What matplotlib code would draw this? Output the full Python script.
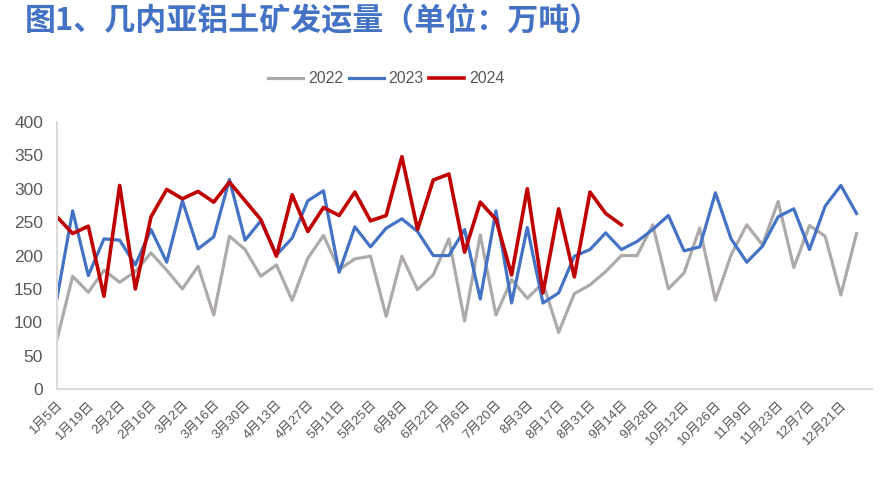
import numpy as np
import matplotlib
matplotlib.use('Agg')
import matplotlib.pyplot as plt

plt.rcParams['font.family'] = ['Liberation Sans', 'Noto Sans CJK SC', 'DejaVu Sans']

# Rótulos do eixo x (a cada duas semanas)
rotulos = ['1月5日', '1月19日', '2月2日', '2月16日', '3月2日', '3月16日', '3月30日',
           '4月13日', '4月27日', '5月11日', '5月25日', '6月8日', '6月22日', '7月6日',
           '7月20日', '8月3日', '8月17日', '8月31日', '9月14日', '9月28日', '10月12日',
           '10月26日', '11月9日', '11月23日', '12月7日', '12月21日']

# Embarques semanais (万吨)
s2022 = [74, 169, 145, 178, 160, 176, 204, 178, 150, 184, 111, 229, 209, 169, 186, 133,
         196, 230, 179, 195, 199, 109, 199, 149, 171, 225, 102, 231, 111, 164, 136, 159,
         85, 143, 156, 176, 200, 200, 246, 150, 174, 241, 133, 201, 246, 216, 281, 182,
         245, 229, 141, 233]
s2023 = [136, 267, 170, 225, 223, 186, 239, 190, 282, 210, 228, 314, 223, 252, 201, 226,
         282, 297, 175, 243, 213, 241, 255, 236, 200, 200, 239, 135, 267, 129, 242, 129,
         144, 199, 209, 234, 209, 221, 239, 260, 207, 213, 294, 225, 190, 214, 258, 270,
         209, 274, 305, 263]
s2024 = [258, 233, 244, 139, 305, 150, 258, 299, 285, 296, 280, 310, 282, 254, 199, 291,
         236, 272, 260, 295, 252, 260, 348, 239, 313, 322, 205, 280, 254, 171, 300, 144,
         270, 168, 295, 263, 246]

cinza = '#AEAAAA'
azul = '#4472C4'
vermelho = '#C00000'
texto = '#595959'

fig = plt.figure(figsize=(8.9, 4.84), dpi=100)
ax = fig.add_axes([0.064, 0.196, 0.916, 0.552])

ax.plot(np.arange(len(s2022)), s2022, color=cinza, lw=2.3, label='2022', solid_joinstyle='round')
ax.plot(np.arange(len(s2023)), s2023, color=azul, lw=2.3, label='2023', solid_joinstyle='round')
ax.plot(np.arange(len(s2024)), s2024, color=vermelho, lw=2.6, label='2024', solid_joinstyle='round')

ax.set_xlim(0, 52)
ax.set_ylim(0, 400)
ax.set_yticks(np.arange(0, 401, 50))
ax.set_xticks(np.arange(0, 52, 2))
ax.set_xticklabels(rotulos, rotation=45, ha='right', rotation_mode='anchor',
                   fontsize=9.5, color=texto)
ax.tick_params(axis='y', labelsize=12.5, colors=texto, length=0, pad=10)
ax.tick_params(axis='x', length=0, pad=7)

for lado in ['top', 'right']:
    ax.spines[lado].set_visible(False)
for lado in ['left', 'bottom']:
    ax.spines[lado].set_color('#D9D9D9')
    ax.spines[lado].set_linewidth(1.5)

fig.legend(loc='center', bbox_to_anchor=(0.434, 0.837), ncol=3, frameon=False,
           fontsize=11.5, handlelength=2.2, handletextpad=0.3, columnspacing=0.35,
           labelcolor=texto)

fig.text(0.028, 0.955, '图1、几内亚铝土矿发运量（单位：万吨）', fontsize=22.3,
         fontweight='bold', color=azul, va='center', ha='left',
         family=['Noto Sans CJK SC', 'DejaVu Sans'])

plt.savefig('out.png', dpi=100)
